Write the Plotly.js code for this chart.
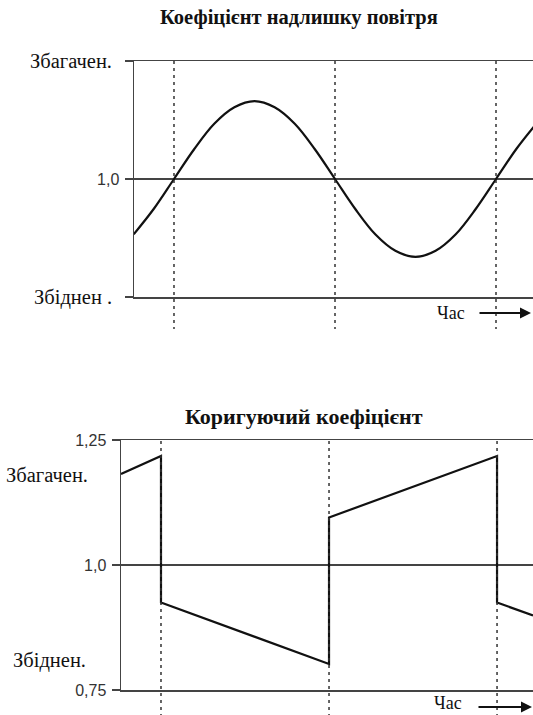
<!DOCTYPE html>
<html>
<head>
<meta charset="utf-8">
<script src="https://cdn.plot.ly/plotly-3.0.1.min.js"></script>
<style>html,body{margin:0;padding:0;background:#fff;}#chart{width:533px;height:715px;}</style>
</head>
<body>
<div id="chart"></div>
<script>
// ---- data ----
const title1 = "Коефіцієнт надлишку повітря";
const title2 = "Коригуючий коефіцієнт";
const timeLabel = "Час";
const richLabel = "Збагачен.";
const leanLabel1 = "Збіднен .";
const leanLabel2 = "Збіднен.";

// top chart: air excess ratio (lambda) over time
const lambdaTime = [0.75, 0.875, 1.0, 1.125, 1.25, 1.375, 1.5, 1.625, 1.75, 1.875, 2.0,
                    2.125, 2.25, 2.375, 2.5, 2.625, 2.75, 2.875, 3.0, 3.125, 3.25];
const lambdaValue = [0.883, 0.937, 1.0, 1.063, 1.117, 1.152, 1.165, 1.152, 1.117, 1.063, 1.0,
                     0.937, 0.883, 0.848, 0.835, 0.848, 0.883, 0.937, 1.0, 1.063, 1.117];

// bottom chart: correction coefficient over time
const corrTime  = [0.762, 1.0, 1.0, 2.0, 2.0, 3.0, 3.0, 3.214];
const corrValue = [1.182, 1.218, 0.925, 0.802, 1.095, 1.218, 0.925, 0.899];

// switching moments (dashed lines)
const switchTimes = [1, 2, 3];

// y ticks
const yTickVals = [0.75, 1.0, 1.25];
const yTickTextTop = ["", "1,0", ""];
const yTickTextBottom = ["0,75", "1,0", "1,25"];

// ---- styling ----
const H = 715, W = 533;
const py = p => 1 - p / H;       // pixel y -> paper
const px = p => p / W;           // pixel x -> paper
const axisColor = "#444";
const serif = "Liberation Serif";
const sans = "Liberation Sans";

const traces = [
  {x: lambdaTime, y: lambdaValue, xaxis: "x", yaxis: "y", mode: "lines",
   line: {color: "#111", width: 2.2, shape: "spline", smoothing: 1.0}, hoverinfo: "skip"},
  {x: corrTime, y: corrValue, xaxis: "x2", yaxis: "y2", mode: "lines",
   line: {color: "#111", width: 2.2}, hoverinfo: "skip"}
];

function xax(domain, range) {
  return {domain: domain, range: range, showline: true, mirror: true, linecolor: axisColor,
          linewidth: 1.5, showgrid: false, zeroline: false, showticklabels: false, ticks: "",
          fixedrange: true};
}
function yax(domain, ticktext, anchor) {
  return {domain: domain, range: [0.75, 1.25], anchor: anchor, showline: true, linecolor: axisColor,
          linewidth: 1.5, showgrid: true, gridcolor: axisColor, gridwidth: 1.5, zeroline: false,
          tickmode: "array", tickvals: yTickVals, ticktext: ticktext, ticks: "outside",
          ticklen: 8, tickwidth: 1.5, tickcolor: axisColor, ticklabelstandoff: 2,
          tickfont: {family: sans, size: 16, color: "#333"}, fixedrange: true};
}

const shapes = [];
switchTimes.forEach(t => {
  shapes.push({type: "line", xref: "x", yref: "paper", x0: t, x1: t, y0: py(61), y1: py(329),
               line: {color: "#333", width: 1.5, dash: "3px,4px"}});
  shapes.push({type: "line", xref: "x2", yref: "paper", x0: t, x1: t, y0: py(441), y1: py(715),
               line: {color: "#333", width: 1.5, dash: "3px,4px"}});
});

const annotations = [
  {text: "<b>" + title1 + "</b>", xref: "paper", yref: "paper", x: px(299), y: py(18),
   yanchor: "middle", showarrow: false, font: {family: serif, size: 20.5, color: "#111"}},
  {text: "<b>" + title2 + "</b>", xref: "paper", yref: "paper", x: px(304), y: py(417),
   yanchor: "middle", showarrow: false, font: {family: serif, size: 22, color: "#111"}},
  // top chart state labels
  {text: richLabel, xref: "paper", yref: "y", x: px(114), y: 1.25, xanchor: "right",
   yanchor: "middle", showarrow: false, font: {family: serif, size: 20.5, color: "#111"}},
  {text: leanLabel1, xref: "paper", yref: "y", x: px(114), y: 0.75, xanchor: "right",
   yanchor: "middle", showarrow: false, font: {family: serif, size: 20.5, color: "#111"}},
  // bottom chart state labels
  {text: richLabel, xref: "paper", yref: "y2", x: px(4), y: 1.18, xanchor: "left",
   yanchor: "middle", showarrow: false, font: {family: serif, size: 20.5, color: "#111"}},
  {text: leanLabel2, xref: "paper", yref: "y2", x: px(11), y: 0.81, xanchor: "left",
   yanchor: "middle", showarrow: false, font: {family: serif, size: 20.5, color: "#111"}},
  // time labels
  {text: timeLabel, xref: "paper", yref: "paper", x: px(467), y: py(313), xanchor: "right",
   yanchor: "middle", showarrow: false, font: {family: serif, size: 18, color: "#111"}},
  {text: timeLabel, xref: "paper", yref: "paper", x: px(464), y: py(703), xanchor: "right",
   yanchor: "middle", showarrow: false, font: {family: serif, size: 18, color: "#111"}},
  // arrows
  {text: "", xref: "paper", yref: "paper", x: px(531), y: py(313), ax: -53, ay: 0,
   showarrow: true, arrowhead: 2, arrowsize: 1.1, arrowwidth: 2, arrowcolor: "#111"},
  {text: "", xref: "paper", yref: "paper", x: px(532), y: py(707), ax: -55, ay: 0,
   showarrow: true, arrowhead: 2, arrowsize: 1.1, arrowwidth: 2, arrowcolor: "#111"}
];

const layout = {
  width: W, height: H, margin: {l: 0, r: 0, t: 0, b: 0},
  paper_bgcolor: "#fff", plot_bgcolor: "#fff", showlegend: false,
  xaxis: xax([px(134), 1], [0.7516, 3.2298]),
  yaxis: yax([py(297), py(61)], yTickTextTop, "x"),
  xaxis2: Object.assign(xax([px(121), 1], [0.762, 3.214]), {anchor: "y2"}),
  yaxis2: yax([py(690), py(440)], yTickTextBottom, "x2"),
  shapes: shapes, annotations: annotations
};
layout.xaxis.anchor = "y";

Plotly.newPlot("chart", traces, layout, {staticPlot: true, displayModeBar: false});
</script>
</body>
</html>
